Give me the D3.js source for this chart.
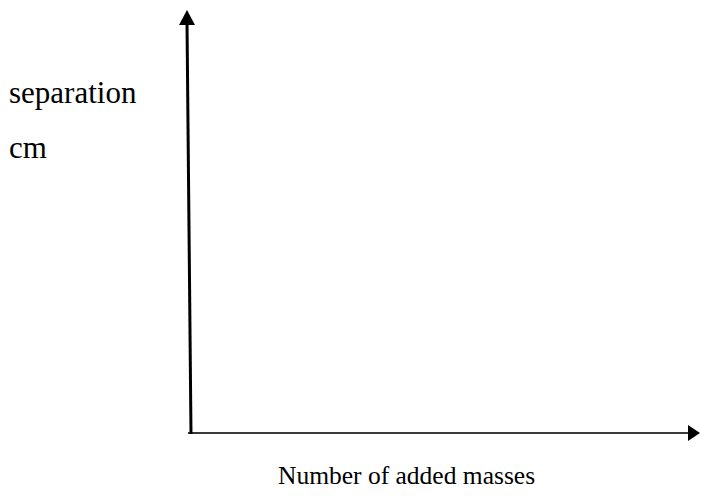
<!DOCTYPE html>
<html>
<head>
<meta charset="utf-8">
<script src="https://cdnjs.cloudflare.com/ajax/libs/d3/7.8.5/d3.min.js"></script>
<style>
body { margin: 0; background: #fff; }
svg text { font-family: "Liberation Serif", "Times New Roman", serif; fill: #000; }
</style>
</head>
<body>
<div id="chart"></div>
<script>
// empty sketch axes, no data series
var yLabelLines = ["separation", "cm"];
var xLabel = "Number of added masses";
var xDomain = [0, 1];
var yDomain = [0, 1];

var width = 701, height = 496;
var margin = {left: 190, right: 1, top: 10, bottom: 63};

var svg = d3.select("#chart").append("svg")
	.attr("width", width)
	.attr("height", height);

var x_scale = d3.scaleLinear()
	.domain(xDomain)
	.range([margin.left, width - margin.right]);
var y_scale = d3.scaleLinear()
	.domain(yDomain)
	.range([height - margin.bottom, margin.top]);

var x0 = x_scale(0), y0 = y_scale(0);

// horizontal axis
var xEnd = x_scale(1);
svg.append("line")
	.attr("x1", x0 - 2).attr("y1", y0)
	.attr("x2", xEnd - 10).attr("y2", y0)
	.attr("stroke", "#3a3a3a")
	.attr("stroke-width", 2);
svg.append("path")
	.attr("d", "M" + xEnd + "," + y0 + "L" + (xEnd - 12) + "," + (y0 - 8) + "L" + (xEnd - 12) + "," + (y0 + 8) + "Z")
	.attr("fill", "#000");

// vertical axis (slightly leaning, as in the drawing)
var yTop = y_scale(1);
var topX = x0 - 3;
svg.append("line")
	.attr("x1", x0 + 1).attr("y1", y0 + 1)
	.attr("x2", topX).attr("y2", yTop + 12)
	.attr("stroke", "#000")
	.attr("stroke-width", 3);
svg.append("path")
	.attr("d", "M" + topX + "," + yTop + "L" + (topX - 8) + "," + (yTop + 15) + "L" + (topX + 8) + "," + (yTop + 15) + "Z")
	.attr("fill", "#000");

// labels
svg.selectAll("text.ylab")
	.data(yLabelLines)
	.enter()
	.append("text")
	.attr("class", "ylab")
	.attr("x", 9)
	.attr("y", function(d, i) { return 103 + i * 55; })
	.attr("font-size", "31px")
	.text(function(d) { return d; });

svg.append("text")
	.attr("x", 278)
	.attr("y", 484)
	.attr("font-size", "25.5px")
	.text(xLabel);
</script>
</body>
</html>
